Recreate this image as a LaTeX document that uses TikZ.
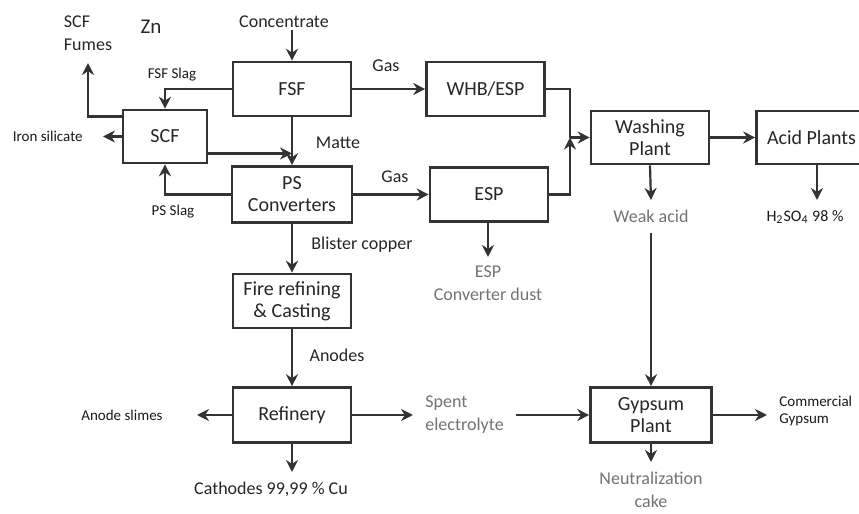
\documentclass[tikz,border=0pt]{standalone}
\usepackage{fontspec}
\setmainfont{Carlito}
\usetikzlibrary{arrows.meta,positioning,calc}

\begin{document}
\begin{tikzpicture}[
  x=0.5pt,y=-0.5pt,
  font=\fontsize{9}{11.5}\selectfont,
  bx/.style={draw=black!80,line width=1.3pt,minimum width=59pt,minimum height=27pt,
             align=center,inner sep=2pt,text=black!85,font=\fontsize{10}{11}\selectfont},
  lb/.style={inner sep=1pt,align=center,text=black!85},
  sm/.style={lb,text=black!90,font=\fontsize{7.5}{9}\selectfont},
  fd/.style={lb,text=black!55},
  ar/.style={-{Stealth[length=6pt,width=6pt]},draw=black!80,line width=1.1pt},
  ln/.style={draw=black!80,line width=1.1pt}
]
\useasboundingbox (0,0) rectangle (859,514);

% process units
\node[bx] (fsf) at (292,89) {FSF};
\node[bx,minimum width=42pt,minimum height=26.5pt] (scf) at (165,136.5) {SCF};
\node[bx,minimum width=60pt,minimum height=28pt] (ps) at (292,194.5) {PS\\Converters};
\node[bx] (whb) at (485.5,89) {WHB/ESP};
\node[bx] (esp) at (489,194.5) {ESP};
\node[bx,minimum height=26.5pt] (wash) at (650,137.5) {Washing\\Plant};
\node[bx,minimum width=55pt,minimum height=26.5pt] (acid) at (811.5,137.5) {Acid Plants};
\node[bx] (fire) at (292,301) {Fire refining\\\& Casting};
\node[bx,minimum height=27.5pt] (ref) at (292,415) {Refinery};
\node[bx,minimum width=60.5pt,minimum height=27.5pt] (gyp) at (651,415) {Gypsum\\Plant};

% feed and smelting
\node[lb] (conc) at (284,22) {Concentrate};
\node[lb,font=\fontsize{10.5}{12}\selectfont] (zn) at (151,27) {Zn};
\draw[ar] (conc.south -| fsf.north) -- (fsf.north);

\draw[ar] (fsf.west) -| (scf.north);
\node[sm] (fsfslag) at (172,75) {FSF Slag};
\draw[ar] (ps.west) -| (scf.south);
\node[sm] (psslag) at (173,212) {PS Slag};

\coordinate (fumes) at (88,63);
\node[lb,align=left,above=5pt of fumes] (fumeslb) {SCF\\Fumes};
\draw[ar] ([yshift=10pt]scf.west) -| (fumes);

\coordinate (iron) at (103,136.5);
\node[sm,left=9pt of iron] (ironlb) {Iron silicate};
\draw[ar] (scf.west) -- (iron);

\draw[ar] (fsf.south) -- (ps.north);
\node[lb] (matte) at (338,143) {Matte};
\draw[ar] ([yshift=-8.5pt]scf.east) -- ([yshift=-8.5pt]scf.east -| fsf.south);

% gas line
\draw[ar] (fsf.east) -- (whb.west);
\node[lb] (gas1) at (386,66) {Gas};
\draw[ar] (ps.east) -- (esp.west);
\node[lb] (gas2) at (395,177) {Gas};

\coordinate (join) at (570,137.5);
\draw[ln] (whb.east) -| (join);
\draw[ar] (esp.east) -| (join);
\draw[ar] (join) -- (wash.west);
\draw[ar] (wash.east) -- (acid.west);

\coordinate (espout) at (488,257);
\draw[ar] (espout |- esp.south) -- (espout);
\node[fd,below=3pt of espout] (dust) {ESP\\Converter dust};

\coordinate (weak) at (651,200);
\draw[ar] (wash.south) -- (weak);
\node[fd,below=4pt of weak] (weaklb) {Weak acid};
\draw[ar,shorten <=4pt] (weaklb) -- (gyp);

\coordinate (acidout) at (817,200);
\draw[ar] (acidout |- acid.south) -- (acidout);
\node[sm,font=\fontsize{8}{9}\selectfont,below=4pt of acidout,xshift=-6pt] (h2so4) {H\textsubscript{2}SO\textsubscript{4} 98 \%};

% copper line
\draw[ar] (ps.south) -- (fire.north);
\node[lb] (blister) at (362,245) {Blister copper};
\draw[ar] (fire.south) -- (ref.north);
\node[lb] (anodes) at (337,355) {Anodes};

\coordinate (slimes) at (197,415);
\draw[ar] (ref.west) -- (slimes);
\node[sm,left=16pt of slimes] (slimeslb) {Anode slimes};

\coordinate (cath) at (292,472);
\draw[ar] (ref.south) -- (cath);
\node[lb,below=4pt of cath,xshift=-10.5pt] (cathlb) {Cathodes 99,99 \% Cu};

\coordinate (spentin) at (413,415);
\draw[ar] (ref.east) -- (spentin);
\node[fd,align=left,right=5pt of spentin] (spent) {Spent\\electrolyte};
\draw[ar] ([xshift=5pt]spent.east |- gyp.west) -- (gyp.west);

% gypsum
\coordinate (gypout) at (767,415);
\draw[ar] (gyp.east) -- (gypout);
\node[sm,align=left,right=5pt of gypout,yshift=2pt] (commerc) {Commercial\\Gypsum};

\coordinate (cake) at (651,462);
\draw[ar] (gyp.south) -- (cake);
\node[fd,below=4pt of cake] (cakelb) {Neutralization\\cake};
\end{tikzpicture}
\end{document}
